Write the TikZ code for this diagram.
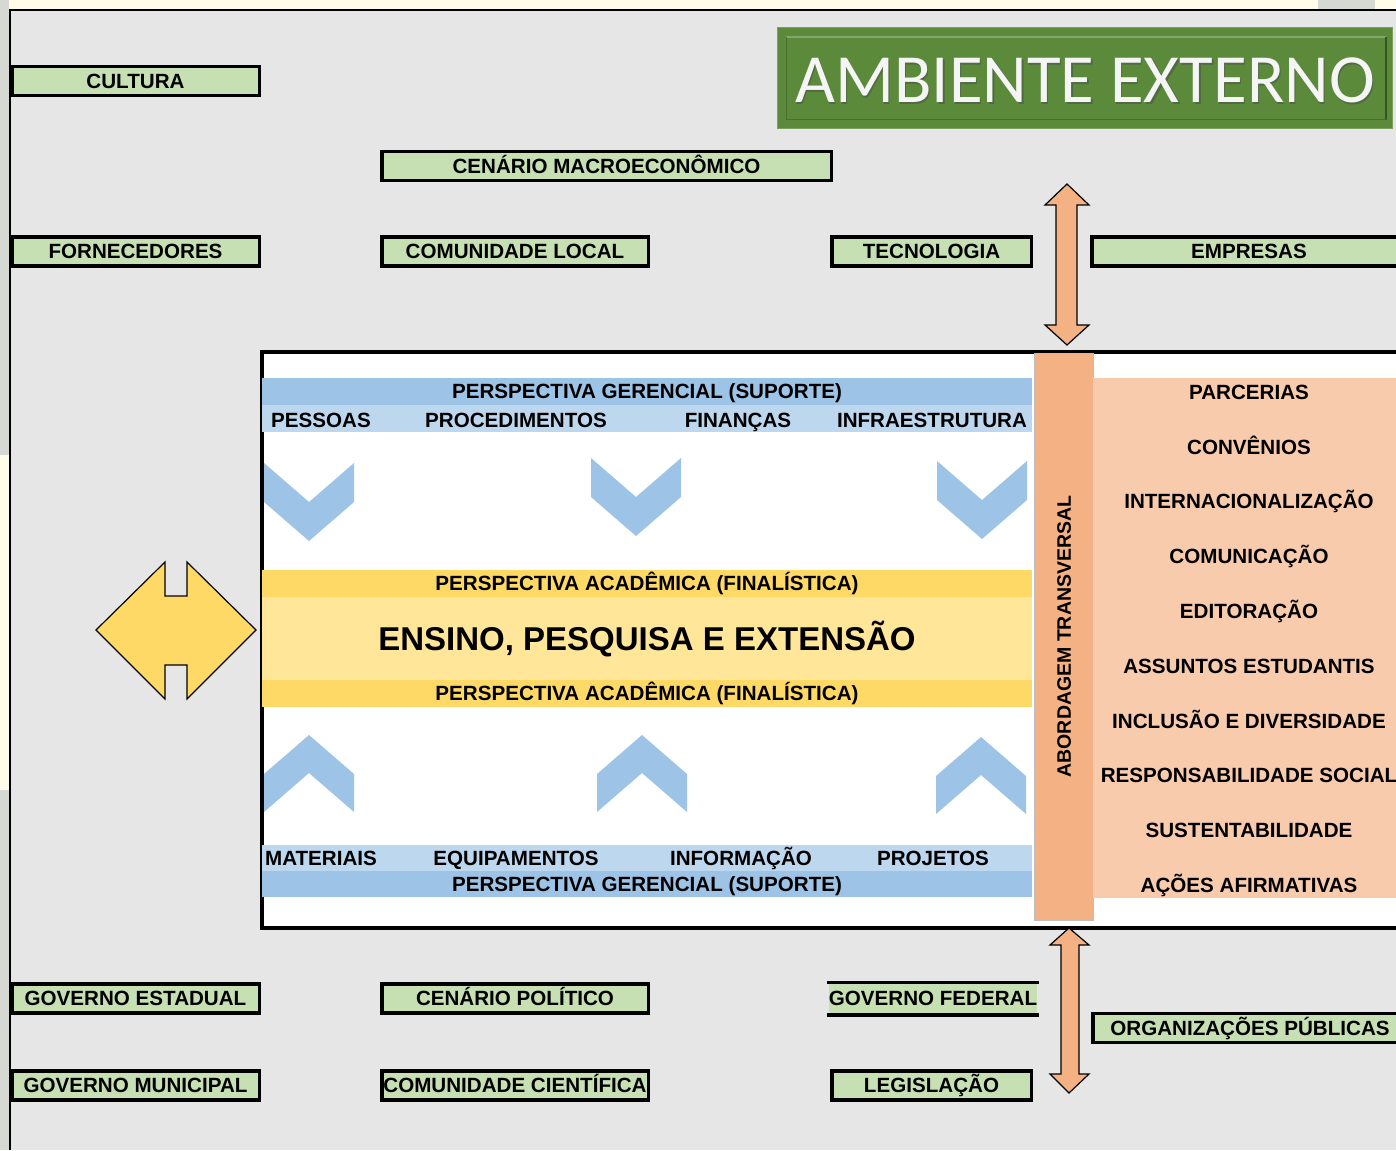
\documentclass[tikz,border=0pt]{standalone}
\usepackage{fontspec}
\setmainfont{Liberation Sans}
\newfontfamily\titulofonte{Carlito}
\usepackage{tikz}
\usepackage{xcolor}
\definecolor{aefundo}{RGB}{230,230,230}
\definecolor{aecreme}{RGB}{255,253,233}
\definecolor{aemoldura}{RGB}{214,216,212}
\definecolor{aeverde}{RGB}{198,224,180}
\definecolor{aetitulo}{RGB}{90,138,58}
\definecolor{aeazul}{RGB}{157,195,230}
\definecolor{aeazulclaro}{RGB}{189,215,238}
\definecolor{aeamarelo}{RGB}{255,217,102}
\definecolor{aeamareloclaro}{RGB}{255,230,153}
\definecolor{aelaranja}{RGB}{244,177,131}
\definecolor{aepessego}{RGB}{248,203,173}
\tikzstyle{rotulo} = [font=\fontsize{20.6}{21}\selectfont\bfseries, text height=14.7pt, text depth=0pt, inner sep=0pt, text=black]
\tikzstyle{externo} = [rotulo, rectangle, draw=black, line width=3.5pt, fill=aeverde, minimum height=29pt]
\tikzstyle{faixa} = [rotulo, rectangle, minimum width=770pt, minimum height=27pt]
\tikzstyle{seta} = [draw=black, line width=1.2pt, fill=aelaranja, line join=miter]
\tikzstyle{titulo} = [rectangle, fill=aetitulo, draw=aetitulo!80!white, line width=1pt, minimum width=615pt, minimum height=101pt]

\begin{document}
\begin{tikzpicture}[x=1pt, y=-1pt]
\clip (0,0) rectangle (1396,1150);
% Fundo
\fill[aefundo] (0,0) rectangle (1396,1150);
\fill[aecreme] (0,0) rectangle (1396,10);
\fill[aemoldura] (1318,0) rectangle (1375,10);
\fill[aemoldura] (0,0) rectangle (9,1150);
\fill[aecreme] (0,455) rectangle (9,790);
\draw[line width=2.2pt] (10,1150) -- (10,10) -- (1396,10);

% Titulo
\node (titulo) [titulo] at (1085,78) {};
\draw[aetitulo!75!white, line width=2pt] ([shift={(9,10)}]titulo.north west) -- ([shift={(-7,10)}]titulo.north east);
\draw[aetitulo!60!black, line width=2pt] ([shift={(-7,10)}]titulo.north east) -- ([shift={(-7,-9)}]titulo.south east);
\draw[aetitulo!80!black, line width=1pt] ([shift={(9,10)}]titulo.north west) -- ([shift={(9,-9)}]titulo.south west) -- ([shift={(-7,-9)}]titulo.south east);
\node (titulosombra) [font=\titulofonte\fontsize{69}{69}\selectfont, text=black!70, opacity=0.5, inner sep=0pt, anchor=base] at (1086.5,104.5) {AMBIENTE EXTERNO};
\node (titulotexto) [font=\titulofonte\fontsize{69}{69}\selectfont, text=white!96!black, inner sep=0pt, anchor=base] at (1085,103) {AMBIENTE EXTERNO};

% Ambiente externo
\node (cultura) [externo, minimum width=247.5pt] at (135.5,81) {CULTURA};
\node (macro) [externo, minimum width=449.5pt] at (606.5,166) {CENÁRIO MACROECONÔMICO};
\node (fornecedores) [externo, minimum width=247.5pt] at (135.5,251.5) {FORNECEDORES};
\node (comunidade) [externo, minimum width=266.5pt] at (515,251.5) {COMUNIDADE LOCAL};
\node (tecnologia) [externo, minimum width=199.5pt] at (931.5,251.5) {TECNOLOGIA};
\node (empresas) [externo, minimum width=314.5pt] at (1249,251.5) {EMPRESAS};
\node (estadual) [externo, minimum width=247.5pt] at (135.5,998.5) {GOVERNO ESTADUAL};
\node (politico) [externo, minimum width=266.5pt] at (515,998.5) {CENÁRIO POLÍTICO};
\node (federal) [externo, draw=none, minimum width=204pt] at (933,998.5) {GOVERNO FEDERAL};
\draw[line width=3.5pt] (federal.north west) -- (federal.north east);
\draw[line width=3.5pt] (federal.south west) -- (federal.south east);
\node (publicas) [externo, minimum width=314.5pt] at (1250,1028) {ORGANIZAÇÕES PÚBLICAS};
\node (municipal) [externo, minimum width=247.5pt] at (135.5,1085.5) {GOVERNO MUNICIPAL};
\node (cientifica) [externo, minimum width=266.5pt] at (515,1085.5) {COMUNIDADE CIENTÍFICA};
\node (legislacao) [externo, minimum width=199.5pt] at (931.5,1085.5) {LEGISLAÇÃO};

% Setas de ligacao
\filldraw[fill=aeamarelo, draw=black, line width=1.2pt, line join=miter] (96,630) -- (165,562) -- (165,596) -- (187,596) -- (187,562) -- (256,630) -- (187,699) -- (187,665) -- (165,665) -- (165,699) -- cycle;
\filldraw[seta] (1067,184) -- (1089,205) -- (1077,205) -- (1077,325) -- (1089,325) -- (1067,345) -- (1045,325) -- (1056,325) -- (1056,205) -- (1045,205) -- cycle;

% Ambiente interno
\node (interno) [draw=black, line width=3.5pt, fill=white, minimum width=1160pt, minimum height=576pt, anchor=north west, inner sep=0pt] at (260,350) {};
\node (gerencialsup) [faixa, fill=aeazul] at (647,391.5) {PERSPECTIVA GERENCIAL (SUPORTE)};
\node (recursossup) [faixa, fill=aeazulclaro] at (647,418.5) {};
\node (pessoas) [rotulo] at (321,420) {PESSOAS};
\node (procedimentos) [rotulo] at (516,420) {PROCEDIMENTOS};
\node (financas) [rotulo] at (738,420) {FINANÇAS};
\node (infra) [rotulo] at (932,420) {INFRAESTRUTURA};

\node (academica1) [faixa, fill=aeamarelo] at (647,583.5) {PERSPECTIVA ACADÊMICA (FINALÍSTICA)};
\node (ensino) [faixa, fill=aeamareloclaro, minimum height=83pt, font=\fontsize{33}{33}\selectfont\bfseries, text height=23.6pt] at (647,638.5) {ENSINO, PESQUISA E EXTENSÃO};
\node (academica2) [faixa, fill=aeamarelo] at (647,693) {PERSPECTIVA ACADÊMICA (FINALÍSTICA)};

\node (recursosinf) [faixa, fill=aeazulclaro, minimum height=26pt] at (647,858) {};
\node (materiais) [rotulo] at (321,858) {MATERIAIS};
\node (equipamentos) [rotulo] at (516,858) {EQUIPAMENTOS};
\node (informacao) [rotulo] at (741,858) {INFORMAÇÃO};
\node (projetos) [rotulo] at (933,858) {PROJETOS};
\node (gerencialinf) [faixa, fill=aeazul, minimum height=26pt] at (647,884) {PERSPECTIVA GERENCIAL (SUPORTE)};

% Chevrons
\foreach \cx/\cy in {264/463, 591/458, 937/461}
  \fill[aeazul] (\cx,\cy) -- ++(45,39) -- ++(45,-39) -- ++(0,39) -- ++(-45,39) -- ++(-45,-39) -- cycle;
\foreach \cx/\cy in {264/735, 597/735, 936/737}
  \fill[aeazul] (\cx,\cy+77) -- ++(0,-38) -- ++(45,-39) -- ++(45,39) -- ++(0,38) -- ++(-45,-39) -- cycle;

% Abordagem transversal
\node (transversal) [rotulo, rotate=90, fill=aelaranja, draw=black!25, line width=1pt, minimum width=567pt, minimum height=59pt, font=\fontsize{19.5}{20}\selectfont\bfseries] at (1063.5,636.5) {ABORDAGEM TRANSVERSAL};
\fill[aepessego] (1093,378) rectangle (1396,898);
\foreach \t [count=\i from 0] in {PARCERIAS, CONVÊNIOS, INTERNACIONALIZAÇÃO, COMUNICAÇÃO, EDITORAÇÃO, ASSUNTOS ESTUDANTIS, INCLUSÃO E DIVERSIDADE, RESPONSABILIDADE SOCIAL, SUSTENTABILIDADE, AÇÕES AFIRMATIVAS}
  \node (area\i) [rotulo] at (1249,392+54.8*\i) {\t};

\filldraw[seta] (1069,928) -- (1089,945) -- (1079,945) -- (1079,1074) -- (1089,1074) -- (1069,1093) -- (1050,1074) -- (1061,1074) -- (1061,945) -- (1050,945) -- cycle;
\end{tikzpicture}
\end{document}
